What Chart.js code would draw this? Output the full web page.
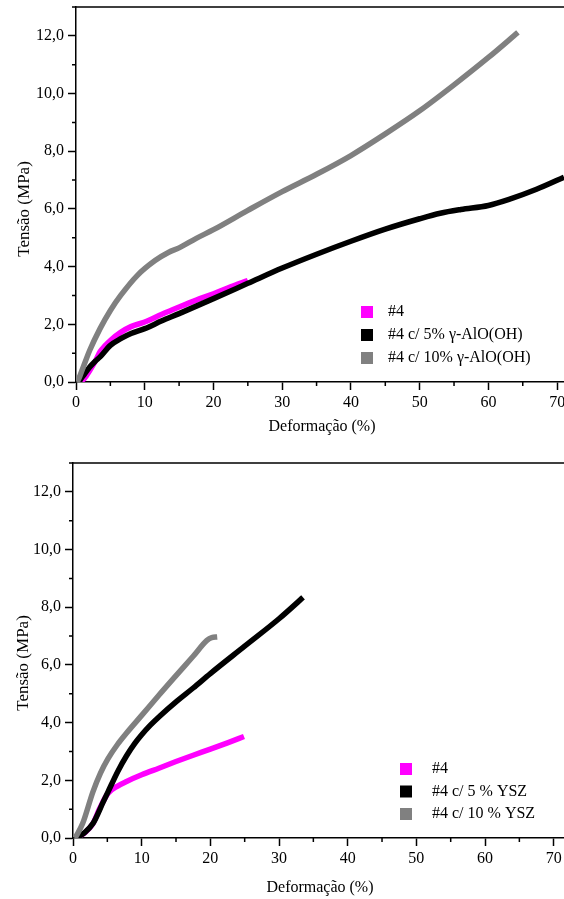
<!DOCTYPE html>
<html>
<head>
<meta charset="utf-8">
<script src="https://cdn.jsdelivr.net/npm/chart.js@4"></script>
<style>
  body { margin: 0; background: #fff; }
  canvas { display: block; }
</style>
</head>
<body>
<canvas id="topChart" width="564" height="449"></canvas>
<canvas id="bottomChart" width="564" height="450"></canvas>
<script>
// top chart: #4 with gamma-AlO(OH)
const s4TopX = [0.5, 1.2, 2, 2.8, 3.5, 4.2, 5, 6.5, 8, 10, 12.5, 15, 17.5, 20, 22.5, 25];
const s4TopY = [0, 0.12, 0.4, 0.72, 1.05, 1.25, 1.44, 1.72, 1.92, 2.08, 2.35, 2.6, 2.84, 3.06, 3.3, 3.52];
const s5AlX = [0.4, 1, 2, 2.8, 3.5, 5, 6.5, 8, 10, 12.5, 15, 17.5, 20, 25, 30, 35, 40, 45, 50, 53, 56, 60, 63, 67, 71];
const s5AlY = [0, 0.2, 0.52, 0.72, 0.87, 1.27, 1.5, 1.68, 1.85, 2.12, 2.37, 2.63, 2.89, 3.42, 3.95, 4.43, 4.88, 5.3, 5.66, 5.85, 5.98, 6.12, 6.33, 6.68, 7.1];
const s10AlX = [0.2, 0.6, 2, 3.5, 5, 6.5, 8.9, 11.5, 13.5, 15, 17.5, 20, 25, 30, 35, 40, 45, 50, 55, 60, 64.3];
const s10AlY = [0, 0.23, 1.1, 1.85, 2.48, 3.0, 3.69, 4.21, 4.5, 4.65, 4.98, 5.28, 5.95, 6.6, 7.2, 7.85, 8.6, 9.4, 10.3, 11.25, 12.12];

// bottom chart: #4 with YSZ
const s4BotX = [0.5, 1.9, 2.9, 3.9, 5.1, 6.5, 7.8, 10, 12.5, 15, 17.5, 20, 22.5, 24.9];
const s4BotY = [0, 0.22, 0.5, 1.03, 1.55, 1.8, 1.96, 2.19, 2.42, 2.65, 2.87, 3.08, 3.3, 3.52];
const s5YszX = [0.5, 1.5, 2.9, 4.4, 5.1, 6.5, 7.8, 9, 10, 11.3, 12.7, 15, 17.5, 20, 25, 30, 33.5];
const s5YszY = [0, 0.15, 0.5, 1.25, 1.6, 2.3, 2.85, 3.28, 3.58, 3.92, 4.24, 4.72, 5.2, 5.7, 6.65, 7.6, 8.34];
const s10YszX = [0.3, 1.4, 2.9, 4, 5.1, 6.5, 7.8, 10, 12.5, 15, 17.5, 19.5, 20.2, 21];
const s10YszY = [0, 0.5, 1.6, 2.25, 2.75, 3.25, 3.64, 4.25, 4.95, 5.63, 6.3, 6.85, 6.95, 6.97];

const topLabels = ['#4', '#4 c/ 5% \u03b3-AlO(OH)', '#4 c/ 10% \u03b3-AlO(OH)'];
const bottomLabels = ['#4', '#4 c/ 5 % YSZ', '#4 c/ 10 % YSZ'];
const colors = ['#ff00ff', '#000000', '#808080'];

const xTitle = 'Deformação (%)';
const yTitle = 'Tensão (MPa)';
const serif = "'Liberation Serif', 'Times New Roman', serif";

function pts(xs, ys) {
    return xs.map((x, i) => ({ x: x, y: ys[i] }));
}

function series(label, xs, ys, color, order) {
    return {
        label: label,
        data: pts(xs, ys),
        borderColor: color,
        backgroundColor: color,
        borderWidth: 5.5,
        pointRadius: 0,
        cubicInterpolationMode: 'monotone',
        fill: false,
        order: order
    };
}

// frame top line, minor ticks, axis titles and the inside legend
function decor(cfg) {
    return {
        id: 'decor',
        afterDraw(chart) {
            const ctx = chart.ctx;
            const area = chart.chartArea;
            const xs = chart.scales.x;
            const ys = chart.scales.y;
            ctx.save();
            ctx.strokeStyle = '#000';
            ctx.lineWidth = 1.5;
            ctx.beginPath();
            ctx.moveTo(area.left, area.top);
            ctx.lineTo(area.right, area.top);
            for (let v = 5; v <= xs.max; v += 10) {
                const px = xs.getPixelForValue(v);
                ctx.moveTo(px, area.bottom);
                ctx.lineTo(px, area.bottom + 4);
            }
            for (let v = 1; v <= ys.max; v += 2) {
                const py = ys.getPixelForValue(v);
                ctx.moveTo(area.left, py);
                ctx.lineTo(area.left - 4, py);
            }
            ctx.stroke();

            ctx.fillStyle = '#000';
            ctx.font = '16px ' + serif;
            ctx.textAlign = 'center';
            ctx.textBaseline = 'middle';
            ctx.fillText(xTitle, cfg.xTitle[0], cfg.xTitle[1]);
            ctx.save();
            ctx.translate(cfg.yTitle[0], cfg.yTitle[1]);
            ctx.rotate(-Math.PI / 2);
            ctx.font = '17px ' + serif;
            ctx.fillText(yTitle, 0, 0);
            ctx.restore();

            ctx.textAlign = 'left';
            chart.data.datasets.forEach((ds, i) => {
                const y = cfg.legendY + i * cfg.legendGap;
                ctx.fillStyle = ds.borderColor;
                ctx.fillRect(cfg.boxX - 6, y - 6, 12, 12);
                ctx.fillStyle = '#000';
                ctx.fillText(ds.label, cfg.textX, y);
            });
            ctx.restore();
        }
    };
}

function noPad(scale) {
    scale.paddingTop = 0;
    scale.paddingBottom = 0;
    scale.paddingLeft = 0;
    scale.paddingRight = 0;
}

function makeChart(id, labels, data, xMax, yWidth, xHeight, topPad, cfg) {
    const ctx = document.getElementById(id).getContext('2d');
    return new Chart(ctx, {
        type: 'line',
        data: {
            datasets: [
                series(labels[0], data[0][0], data[0][1], colors[0], 3),
                series(labels[1], data[1][0], data[1][1], colors[1], 2),
                series(labels[2], data[2][0], data[2][1], colors[2], 1)
            ]
        },
        options: {
            responsive: false,
            animation: false,
            layout: { padding: { top: topPad, right: 0, left: 0, bottom: 0 } },
            plugins: { legend: { display: false }, tooltip: { enabled: false } },
            scales: {
                x: {
                    type: 'linear',
                    min: 0,
                    max: xMax,
                    afterFit: (scale) => { scale.height = xHeight; noPad(scale); },
                    border: { color: '#000', width: 1.5 },
                    grid: { drawOnChartArea: false, tickLength: 8, tickColor: '#000', tickWidth: 1.5 },
                    ticks: {
                        stepSize: 10,
                        includeBounds: false,
                        maxRotation: 0,
                        padding: 3,
                        color: '#000',
                        font: { family: serif, size: 16 }
                    }
                },
                y: {
                    min: 0,
                    max: 13,
                    afterFit: (scale) => { scale.width = yWidth; noPad(scale); },
                    border: { color: '#000', width: 1.5 },
                    grid: { drawOnChartArea: false, tickLength: 8, tickColor: '#000', tickWidth: 1.5 },
                    ticks: {
                        stepSize: 2,
                        includeBounds: false,
                        padding: 4,
                        color: '#000',
                        font: { family: serif, size: 16 },
                        callback: (v) => v.toFixed(1).replace('.', ',')
                    }
                }
            }
        },
        plugins: [decor(cfg)]
    });
}

makeChart('topChart', topLabels,
    [[s4TopX, s4TopY], [s5AlX, s5AlY], [s10AlX, s10AlY]],
    71.0, 76, 67, 7,
    { xTitle: [322, 427], yTitle: [25, 209], legendY: 312, legendGap: 23, boxX: 367, textX: 388 });

makeChart('bottomChart', bottomLabels,
    [[s4BotX, s4BotY], [s5YszX, s5YszY], [s10YszX, s10YszY]],
    71.5, 73, 61, 14,
    { xTitle: [320, 439], yTitle: [24, 214], legendY: 320, legendGap: 22.5, boxX: 406, textX: 432 });
</script>
</body>
</html>
